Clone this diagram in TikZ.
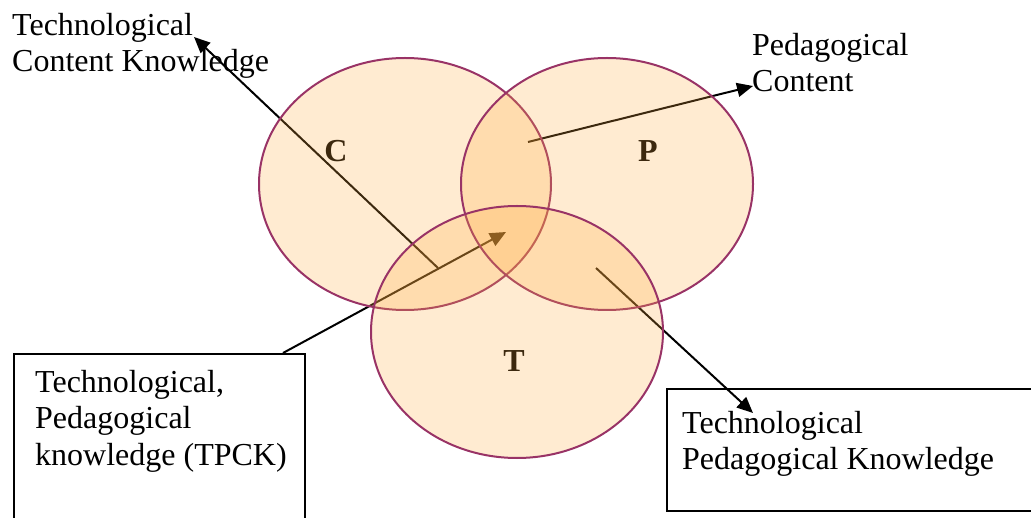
\documentclass[tikz,border=0pt]{standalone}
\usepackage{fontspec}
\setmainfont{Liberation Serif}
\usetikzlibrary{arrows.meta,shapes.geometric}
\definecolor{venfill}{RGB}{255,170,60}
\definecolor{venline}{RGB}{153,51,102}
\begin{document}
\begin{tikzpicture}[x=1pt,y=-1pt,
  lbl/.style={font=\fontsize{32}{36.5}\selectfont, align=left, inner sep=0pt, anchor=north west},
  setlbl/.style={font=\fontsize{32}{38}\selectfont\bfseries, inner sep=0pt, anchor=base},
  arr/.style={line width=2pt, -{Triangle[length=16pt,width=14pt]}},
  venn/.style={ellipse, draw=venline, line width=2pt, fill=venfill, fill opacity=0.235,
               minimum width=292pt, minimum height=252pt, inner sep=0pt, outer sep=0pt},
  boxst/.style={draw=black, line width=2pt, inner sep=0pt, anchor=north west}]
\useasboundingbox (0,0) rectangle (1031,518);
% outer texts
\node[lbl] (tck) at (12,13) {Technological\\Content Knowledge};
\node[lbl] (pc) at (752,33) {Pedagogical\\Content};
% boxes
\node[boxst, minimum width=291pt, minimum height=190pt] (lbox) at (13,353) {};
\node[lbl] (ltext) at (35,370) {Technological,\\Pedagogical\\knowledge (TPCK)};
\node[boxst, minimum width=372pt, minimum height=122pt] (rbox) at (666,388) {};
\node[lbl] (rtext) at (682,411) {Technological\\Pedagogical Knowledge};
% set labels
\node[setlbl] (lc) at (336,162) {C};
\node[setlbl] (lp) at (648,162) {P};
\node[setlbl] (lt) at (514,372) {T};
% connector ends
\coordinate (s1) at (438,268);
\coordinate (t1) at (194,37);
\coordinate (s2) at (528,142);
\coordinate (t2) at (753,86);
\coordinate (s3) at (283,353);
\coordinate (t3) at (506,232);
\coordinate (s4) at (596,268);
\coordinate (t4) at (753,413);
\draw[arr] (s1) -- (t1);
\draw[arr] (s2) -- (t2);
\draw[arr] (s3) -- (t3);
\draw[arr] (s4) -- (t4);
% ellipses on top
\node[venn] (C) at (405,184) {};
\node[venn] (P) at (607,184) {};
\node[venn] (T) at (517,332) {};
\end{tikzpicture}
\end{document}
